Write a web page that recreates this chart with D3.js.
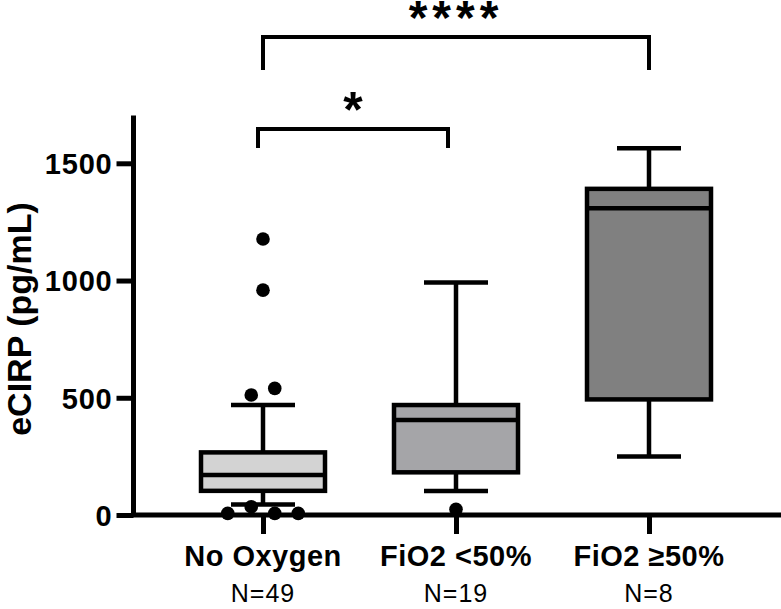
<!DOCTYPE html>
<html>
<head>
<meta charset="utf-8">
<script src="https://cdn.jsdelivr.net/npm/d3@7"></script>
<style>
  body { margin: 0; background: #fff; }
  svg { display: block; font-family: "Liberation Sans", Arial, sans-serif; }
</style>
</head>
<body>
<svg id="chart" width="781" height="609"></svg>
<script>
// ---- data ----
const categories = ["No Oxygen", "FiO2 <50%", "FiO2 \u226550%"];
const counts = ["N=49", "N=19", "N=8"];
const whiskerLow = [45, 102, 249];
const q1 = [103, 182, 493];
const median = [171, 405, 1308];
const q3 = [267, 469, 1391];
const whiskerHigh = [469, 992, 1564];
const outliers = [
  [1177, 959, 512, 540, 7, 35, 7, 7],
  [24],
  []
];
const fills = ["#d3d3d3", "#a5a5a8", "#808080"];
const yTicks = [0, 500, 1000, 1500];
const comparisons = [
  { a: 0, b: 1, label: "*" },
  { a: 0, b: 2, label: "****" }
];

// ---- layout ----
const svg = d3.select("#chart");
const axisX = 133.5, axisY = 515, yTop = 116.4;
const x = d3.scalePoint().domain(categories).range([263, 649]);
const y = d3.scaleLinear().domain([0, 1700]).range([axisY, yTop]);
const boxW = 124, capW = 64, lw = 4.5, r = 6.8, spread = 23.5;

// boxes
categories.forEach((c, i) => {
  const cx = x(c);
  const g = svg.append("g");
  g.append("line").attr("x1", cx).attr("x2", cx)
    .attr("y1", y(whiskerLow[i])).attr("y2", y(whiskerHigh[i]))
    .attr("stroke", "#000").attr("stroke-width", lw);
  [whiskerLow[i], whiskerHigh[i]].forEach(v => {
    g.append("line").attr("x1", cx - capW / 2).attr("x2", cx + capW / 2)
      .attr("y1", y(v)).attr("y2", y(v))
      .attr("stroke", "#000").attr("stroke-width", lw);
  });
  g.append("rect").attr("x", cx - boxW / 2).attr("width", boxW)
    .attr("y", y(q3[i])).attr("height", y(q1[i]) - y(q3[i]))
    .attr("fill", fills[i]).attr("stroke", "#000").attr("stroke-width", lw);
  g.append("line").attr("x1", cx - boxW / 2).attr("x2", cx + boxW / 2)
    .attr("y1", y(median[i])).attr("y2", y(median[i]))
    .attr("stroke", "#000").attr("stroke-width", lw);
});

// axes
const yAxis = d3.axisLeft(y).tickValues(yTicks).tickSize(17).tickPadding(4).tickFormat(d3.format("d"));
const gy = svg.append("g").attr("transform", `translate(${axisX},0)`).call(yAxis);
gy.select(".domain").attr("d", `M0,${axisY}V${yTop - 1}`).attr("stroke-width", 5);
gy.selectAll(".tick line").attr("stroke-width", 5);
gy.selectAll(".tick text").attr("font-family", "Liberation Sans, Arial, sans-serif")
  .attr("font-size", 29).attr("font-weight", "bold").attr("letter-spacing", 0.8)
  .attr("fill", "#000").attr("dy", "0.36em");

const xAxis = d3.axisBottom(x).tickSize(19).tickFormat(() => "");
const gx = svg.append("g").attr("transform", `translate(0,${axisY})`).call(xAxis);
gx.select(".domain").attr("d", `M${axisX - 2.5},0H781`).attr("stroke-width", 5);
gx.selectAll(".tick line").attr("stroke-width", 5);

// category labels
svg.selectAll("text.cat").data(categories).join("text").attr("class", "cat")
  .attr("x", d => x(d)).attr("y", 566).attr("text-anchor", "middle")
  .attr("font-size", 29).attr("font-weight", "bold").attr("letter-spacing", 0.5)
  .text(d => d);
svg.selectAll("text.n").data(counts).join("text").attr("class", "n")
  .attr("x", (d, i) => x(categories[i])).attr("y", 602).attr("text-anchor", "middle")
  .attr("font-size", 25).attr("letter-spacing", 1)
  .text(d => d);

// outliers (spread overlapping points horizontally)
categories.forEach((c, i) => {
  const pts = outliers[i];
  const groups = [];
  pts.forEach(v => {
    const g = groups.find(gr => Math.abs(y(gr[0]) - y(v)) < 2 * r + 2);
    if (g) g.push(v); else groups.push([v]);
  });
  groups.forEach(gr => {
    gr.forEach((v, k) => {
      svg.append("circle")
        .attr("cx", x(c) + (k - (gr.length - 1) / 2) * spread)
        .attr("cy", y(v)).attr("r", r).attr("fill", "#000");
    });
  });
});

// y label
svg.append("text").attr("transform", "translate(31,319) rotate(-90)")
  .attr("text-anchor", "middle").attr("font-size", 34).attr("font-weight", "bold")
  .text("eCIRP (pg/mL)");

// significance brackets
const brk = [
  { top: 129, bottom: 148, dl: -5, dr: -8, ty: 127, fs: 50 },
  { top: 37, bottom: 70, dl: 0, dr: 0, ty: 34, fs: 48 }
];
comparisons.forEach((cmp, k) => {
  const b = brk[k];
  const x1 = x(categories[cmp.a]) + b.dl, x2 = x(categories[cmp.b]) + b.dr;
  svg.append("path")
    .attr("d", `M${x1},${b.bottom}V${b.top}H${x2}V${b.bottom}`)
    .attr("fill", "none").attr("stroke", "#000").attr("stroke-width", 4);
  svg.append("text").attr("x", (x1 + x2) / 2).attr("y", b.ty)
    .attr("text-anchor", "middle").attr("font-size", b.fs).attr("font-weight", "bold")
    .attr("letter-spacing", k === 1 ? 5 : 0)
    .text(cmp.label);
});
</script>
</body>
</html>
